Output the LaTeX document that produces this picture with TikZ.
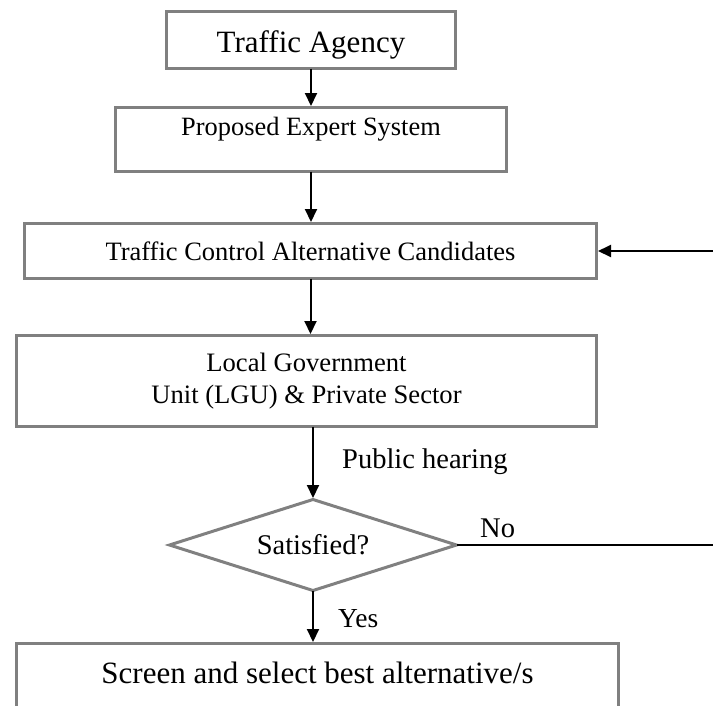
\documentclass[tikz,border=0pt]{standalone}
\usepackage{fontspec}
\setmainfont{Liberation Serif}
\usetikzlibrary{arrows.meta,shapes.geometric}
\definecolor{boxgray}{RGB}{128,128,128}
\begin{document}
\begin{tikzpicture}[x=1pt,y=-1pt,
  box/.style={draw=boxgray, line width=3pt, rectangle, inner sep=0pt, outer sep=0pt, anchor=north},
  arr/.style={line width=2pt, -{Triangle[width=12pt,length=13pt]}, shorten >=1.5pt},
  lbl/.style={inner sep=0pt, anchor=base west}]
\useasboundingbox (0,0) rectangle (713,705);
\clip (0,0) rectangle (713,705);
\node[box, minimum width=289pt, text height=40.5pt, text depth=16.5pt,
      font=\fontsize{31}{36}\selectfont] (ta) at (311,11.5) {Traffic Agency};
\node[box, minimum width=391pt, text height=27.5pt, text depth=36.5pt,
      font=\fontsize{26.4}{32}\selectfont] (pes) at (311,107.5) {Proposed Expert System};
\node[box, minimum width=572pt, text height=36.5pt, text depth=18.5pt,
      font=\fontsize{26.5}{32}\selectfont] (tc) at (310.5,223.5) {Traffic Control Alternative Candidates};
\node[box, anchor=center, minimum width=580pt, minimum height=91pt, align=center,
      font=\fontsize{26.6}{32}\selectfont] (loc) at (306.5,381) {Local Government\\Unit (LGU) \& Private Sector};
\node[diamond, draw=boxgray, line width=3pt, outer sep=0pt, minimum width=287pt, minimum height=91pt,
      aspect=3.15, inner sep=0pt, font=\fontsize{28.5}{34}\selectfont] (dia) at (313,545) {Satisfied?};
\node[box, minimum width=602pt, text height=39.5pt, text depth=50pt,
      font=\fontsize{31}{36}\selectfont] (scr) at (317.5,643.5) {Screen and select best alternative/s};
\node[lbl, font=\fontsize{28.5}{34}\selectfont] (ph) at (342,468) {Public hearing};
\node[lbl, font=\fontsize{28.5}{34}\selectfont] (no) at (480,537) {No};
\node[lbl, font=\fontsize{27.5}{33}\selectfont] (yes) at (338,627) {Yes};
\coordinate (rin) at (713,251);
\coordinate (rout) at (713,545);
\draw[arr] (ta.south) -- (ta.south |- pes.north);
\draw[arr] (pes.south) -- (pes.south |- tc.north);
\draw[arr] (rin) -- (tc.east);
\draw[arr] (tc.south) -- (tc.south |- loc.north);
\draw[arr] (dia.north |- loc.south) -- (dia.north);
\draw[arr] (dia.south) -- (dia.south |- scr.north);
\draw[line width=2pt] (dia.east) -- (rout);
\end{tikzpicture}
\end{document}
